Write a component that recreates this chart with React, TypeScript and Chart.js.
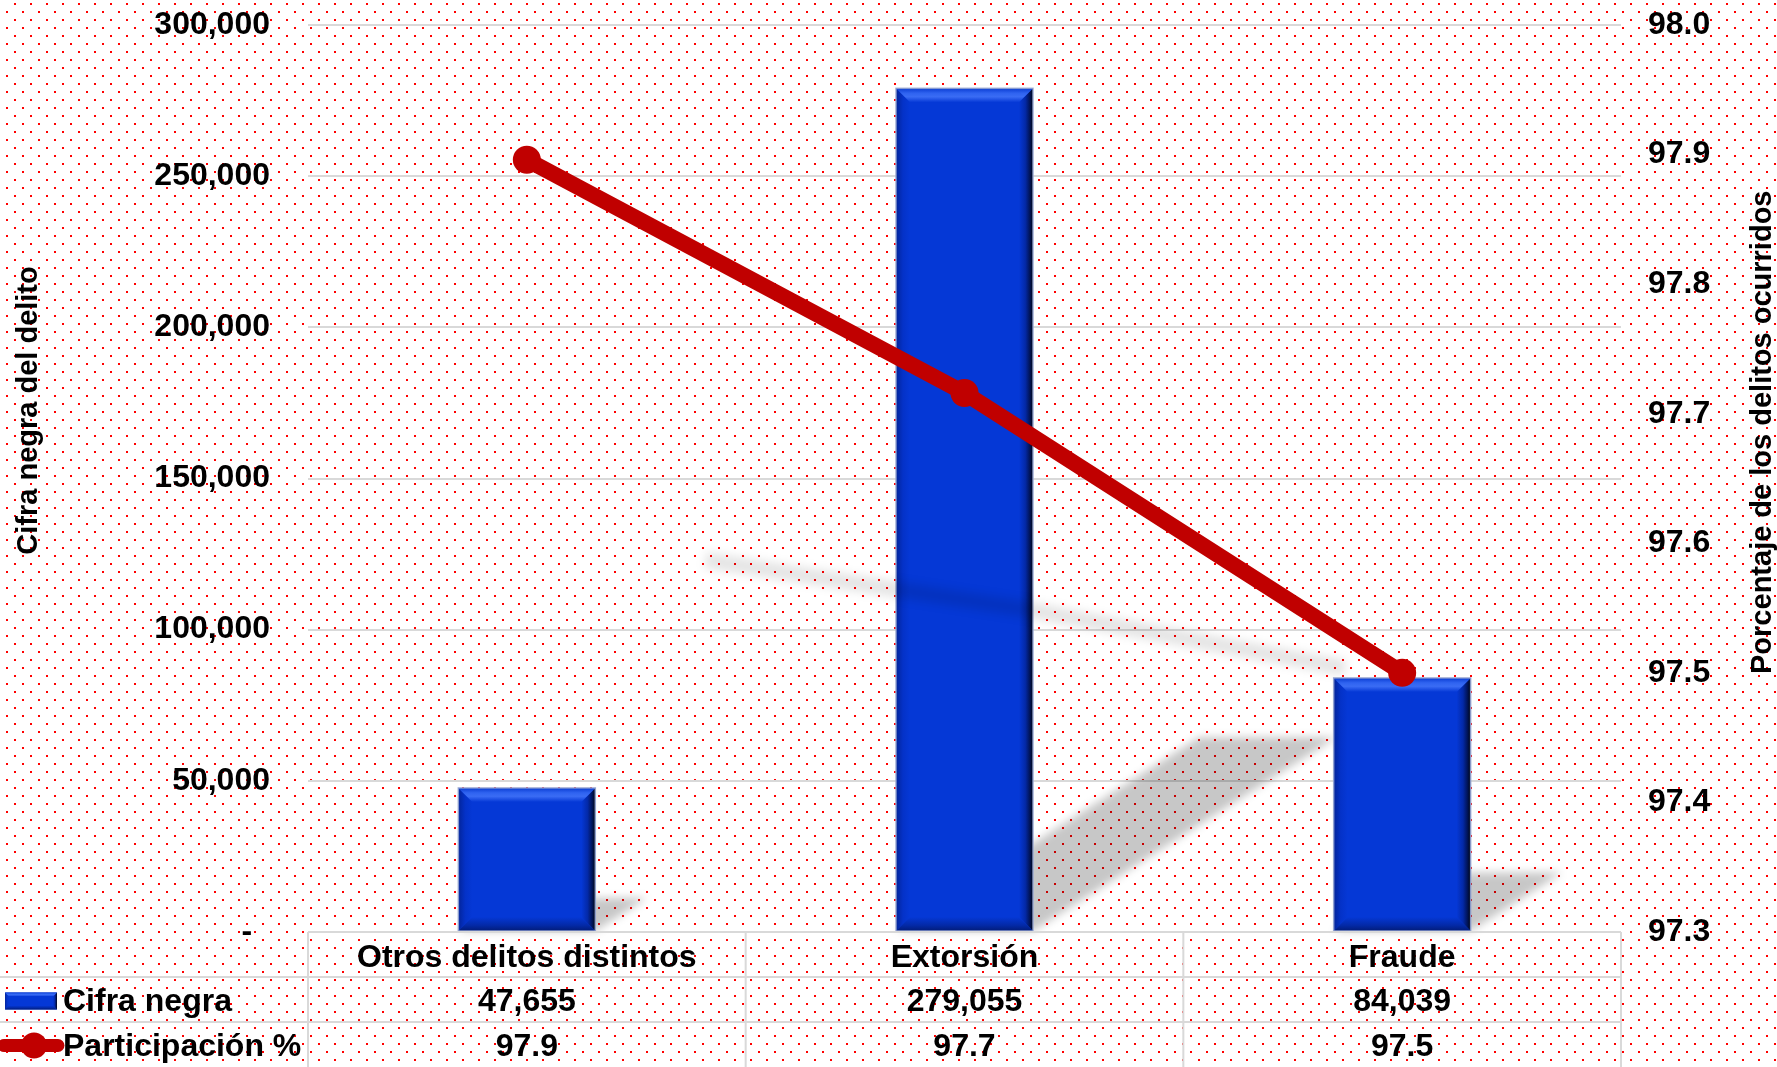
import { useEffect, useRef } from 'react';
import { Chart, registerables } from 'chart.js';

Chart.register(...registerables);

// ---------- data ----------
const categories = ['Otros delitos distintos', 'Extorsión', 'Fraude'];
const cifraNegra = [47655, 279055, 84039];
const participacion = [97.896, 97.716, 97.5];
const seriesNames = ['Cifra negra', 'Participación %'];
const leftAxisTitle = 'Cifra negra del delito';
const rightAxisTitle = 'Porcentaje de los delitos ocurridos';
const leftMin = 0;
const leftMax = 300000;
const leftStep = 50000;
const rightMin = 97.3;
const rightMax = 98.0;
const rightStep = 0.1;

// ---------- style ----------
const W = 1777;
const H = 1067;
const FONT = '"Liberation Sans", Arial, Helvetica, sans-serif';
const BLUE = '#0538D6';
const RED = '#C00000';
const GRID = '#D9D9D9';
const TOP = 25;

function poly(ctx: CanvasRenderingContext2D, pts: number[][], fill: any) {
  ctx.beginPath();
  ctx.moveTo(pts[0][0], pts[0][1]);
  for (let i = 1; i < pts.length; i++) ctx.lineTo(pts[i][0], pts[i][1]);
  ctx.closePath();
  ctx.fillStyle = fill;
  ctx.fill();
}

function bevel(ctx: CanvasRenderingContext2D, L: number, T: number, R: number, B: number, bIn: number, outline = true) {
  const w = R - L;
  const h = B - T;
  const b = Math.min(bIn, w / 2, h / 2);
  ctx.save();
  let g = ctx.createLinearGradient(L, 0, L + b, 0);
  g.addColorStop(0, '#03249A');
  g.addColorStop(0.5, '#0432C8');
  g.addColorStop(1, BLUE);
  poly(ctx, [[L, T], [L + b, T + b], [L + b, B - b], [L, B]], g);
  g = ctx.createLinearGradient(R - b, 0, R, 0);
  g.addColorStop(0, BLUE);
  g.addColorStop(0.45, '#0329A8');
  g.addColorStop(0.8, '#011250');
  g.addColorStop(1, '#000614');
  poly(ctx, [[R, T], [R - b, T + b], [R - b, B - b], [R, B]], g);
  g = ctx.createLinearGradient(0, B - b, 0, B);
  g.addColorStop(0, BLUE);
  g.addColorStop(0.6, '#0329A6');
  g.addColorStop(1, '#021C78');
  poly(ctx, [[L, B], [R, B], [R - b, B - b], [L + b, B - b]], g);
  g = ctx.createLinearGradient(0, T, 0, T + b);
  g.addColorStop(0, '#0A3CD2');
  g.addColorStop(0.35, '#2F63F0');
  g.addColorStop(0.6, '#3A6CF4');
  g.addColorStop(1, BLUE);
  poly(ctx, [[L, T], [R, T], [R - b, T + b], [L + b, T + b]], g);
  if (outline) {
    ctx.strokeStyle = 'rgba(150,165,210,0.9)';
    ctx.lineWidth = 1.5;
    ctx.strokeRect(L, T, w, h);
  }
  ctx.restore();
}

let dotPattern: CanvasPattern | null = null;
function getPattern(ctx: CanvasRenderingContext2D) {
  if (dotPattern) return dotPattern;
  const c = document.createElement('canvas');
  c.width = 16;
  c.height = 16;
  const t = c.getContext('2d')!;
  t.fillStyle = '#FFFFFF';
  t.fillRect(0, 0, 16, 16);
  t.fillStyle = '#FF0000';
  t.fillRect(14, 3, 2, 2);
  t.fillRect(6, 11, 2, 2);
  dotPattern = ctx.createPattern(c, 'repeat');
  return dotPattern;
}

const backgroundPlugin = {
  id: 'dotBackground',
  beforeDraw(chart: any) {
    const ctx = chart.ctx;
    ctx.save();
    ctx.fillStyle = getPattern(ctx);
    ctx.fillRect(0, 0, chart.width, chart.height);
    ctx.restore();
  },
};

const effectsPlugin = {
  id: 'barEffects',
  beforeDatasetsDraw(chart: any) {
    const ctx = chart.ctx;
    const meta = chart.getDatasetMeta(0);
    ctx.save();
    ctx.filter = 'blur(4px)';
    ctx.fillStyle = 'rgba(0,0,0,0.22)';
    meta.data.forEach((el: any) => {
      const { x, y, base, width } = el.getProps(['x', 'y', 'base', 'width'], true);
      const L = x - width / 2;
      const R = x + width / 2;
      const hgt = base - y;
      const dx = hgt * 0.36;
      const dy = hgt * 0.23;
      ctx.beginPath();
      ctx.moveTo(L, base);
      ctx.lineTo(R, base);
      ctx.lineTo(R + dx, base - dy);
      ctx.lineTo(L + dx, base - dy);
      ctx.closePath();
      ctx.fill();
    });
    ctx.restore();
  },
  afterDatasetDraw(chart: any, args: any) {
    if (args.index !== 0) return;
    const ctx = chart.ctx;
    const meta = chart.getDatasetMeta(0);
    meta.data.forEach((el: any) => {
      const { x, y, base, width } = el.getProps(['x', 'y', 'base', 'width'], true);
      bevel(ctx, x - width / 2, y, x + width / 2, base, 14);
    });
    const lm = chart.getDatasetMeta(1);
    ctx.save();
    ctx.filter = 'blur(5px)';
    ctx.strokeStyle = 'rgba(0,0,0,0.10)';
    ctx.lineWidth = 16;
    ctx.lineJoin = 'round';
    ctx.beginPath();
    lm.data.forEach((p: any, i: number) => {
      const sx = p.x * 0.7306 + 320.7;
      const sy = p.y * 0.2101 + 526.6;
      if (i === 0) ctx.moveTo(sx, sy);
      else ctx.lineTo(sx, sy);
    });
    ctx.stroke();
    ctx.restore();
  },
};

const tablePlugin = {
  id: 'dataTable',
  afterDraw(chart: any) {
    const ctx = chart.ctx;
    const ca = chart.chartArea;
    const xs = chart.scales.x;
    const n = categories.length;
    const rowH = (chart.height - ca.bottom) / 3;
    const step = xs.getPixelForValue(1) - xs.getPixelForValue(0);
    const first = xs.getPixelForValue(0) - step / 2;
    ctx.save();
    ctx.strokeStyle = GRID;
    ctx.lineWidth = 2;
    ctx.beginPath();
    ctx.moveTo(ca.left, ca.bottom);
    ctx.lineTo(ca.right, ca.bottom);
    for (let r = 1; r <= 2; r++) {
      ctx.moveTo(0, ca.bottom + r * rowH);
      ctx.lineTo(ca.right, ca.bottom + r * rowH);
    }
    for (let i = 0; i <= n; i++) {
      const x = first + i * step;
      ctx.moveTo(x, ca.bottom);
      ctx.lineTo(x, chart.height);
    }
    ctx.stroke();

    ctx.fillStyle = '#000';
    ctx.font = `bold 32px ${FONT}`;
    ctx.textBaseline = 'middle';
    ctx.textAlign = 'center';
    const y1 = ca.bottom + rowH * 1.5 + 3;
    const y2 = ca.bottom + rowH * 2.5 + 3;
    for (let i = 0; i < n; i++) {
      const x = xs.getPixelForValue(i);
      ctx.fillText(cifraNegra[i].toLocaleString('en-US'), x, y1);
      ctx.fillText(participacion[i].toFixed(1), x, y2);
    }
    ctx.textAlign = 'left';
    ctx.fillStyle = BLUE;
    ctx.fillRect(5, y1 - 10, 52, 17);
    bevel(ctx, 5, y1 - 10, 57, y1 + 7, 4, false);
    ctx.strokeStyle = RED;
    ctx.lineWidth = 13;
    ctx.lineCap = 'round';
    ctx.beginPath();
    ctx.moveTo(4, y2 - 2);
    ctx.lineTo(58, y2 - 2);
    ctx.stroke();
    ctx.fillStyle = RED;
    ctx.beginPath();
    ctx.arc(34, y2 - 2, 13, 0, Math.PI * 2);
    ctx.fill();
    ctx.fillStyle = '#000';
    ctx.fillText(seriesNames[0], 63, y1);
    ctx.fillText(seriesNames[1], 63, y2);

    ctx.font = `bold 29px ${FONT}`;
    ctx.textAlign = 'center';
    ctx.textBaseline = 'middle';
    ctx.save();
    ctx.translate(ca.left - 279, ca.top + (ca.bottom - ca.top) * 0.425);
    ctx.rotate(-Math.PI / 2);
    ctx.fillText(leftAxisTitle, 0, 0);
    ctx.restore();
    ctx.save();
    ctx.translate(ca.right + 142, ca.top + (ca.bottom - ca.top) * 0.449);
    ctx.rotate(-Math.PI / 2);
    ctx.fillText(rightAxisTitle, 0, 0);
    ctx.restore();
    ctx.restore();
  },
};

export default function App() {
  const ref = useRef<HTMLCanvasElement | null>(null);
  useEffect(() => {
    if (!ref.current) return;
    const tickFont = { family: FONT, size: 32, weight: 'bold' as const };
    const chart = new Chart(ref.current, {
      type: 'bar',
      data: {
        labels: categories,
        datasets: [
          {
            type: 'bar',
            label: seriesNames[0],
            data: cifraNegra,
            backgroundColor: BLUE,
            borderWidth: 0,
            yAxisID: 'y',
            order: 1,
            categoryPercentage: 1,
            barPercentage: 0.313,
          },
          {
            type: 'line',
            label: seriesNames[1],
            data: participacion,
            borderColor: RED,
            backgroundColor: RED,
            borderWidth: 16,
            pointRadius: 14,
            pointBorderWidth: 0,
            pointBackgroundColor: RED,
            borderJoinStyle: 'round',
            tension: 0,
            yAxisID: 'y1',
            order: 0,
            clip: false,
          } as any,
        ],
      },
      options: {
        responsive: false,
        animation: false,
        events: [],
        layout: { padding: 0 },
        plugins: { legend: { display: false }, tooltip: { enabled: false } },
        scales: {
          x: {
            position: 'bottom',
            grid: { display: false, drawTicks: false },
            border: { display: false },
            ticks: { font: tickFont, color: '#000', padding: 7, maxRotation: 0, autoSkip: false },
            afterFit: (s: any) => {
              s.height = 135;
              s.paddingLeft = 0;
              s.paddingRight = 0;
            },
          },
          y: {
            position: 'left',
            min: leftMin,
            max: leftMax,
            grid: { color: GRID, lineWidth: 2, drawTicks: false },
            border: { display: false },
            ticks: {
              stepSize: leftStep,
              font: tickFont,
              color: '#000',
              padding: 38,
              callback: (v: any) => (Number(v) === 0 ? '-  ' : Number(v).toLocaleString('en-US')),
            },
            afterFit: (s: any) => {
              s.width = 308;
              s.paddingTop = TOP;
              s.paddingBottom = 0;
            },
          },
          y1: {
            position: 'right',
            min: rightMin,
            max: rightMax,
            grid: { display: false, drawTicks: false },
            border: { display: false },
            ticks: {
              stepSize: rightStep,
              font: tickFont,
              color: '#000',
              padding: 27,
              callback: (v: any) => Number(v).toFixed(1),
            },
            afterFit: (s: any) => {
              s.width = 156;
              s.paddingTop = TOP;
              s.paddingBottom = 0;
            },
          },
        },
      },
      plugins: [backgroundPlugin, effectsPlugin, tablePlugin],
    });
    return () => chart.destroy();
  }, []);
  return (
    <div style={{ position: 'fixed', left: 0, top: 0, width: W, height: H, overflow: 'hidden' }}>
      <canvas ref={ref} width={W} height={H} style={{ display: 'block', width: W, height: H }} />
    </div>
  );
}
